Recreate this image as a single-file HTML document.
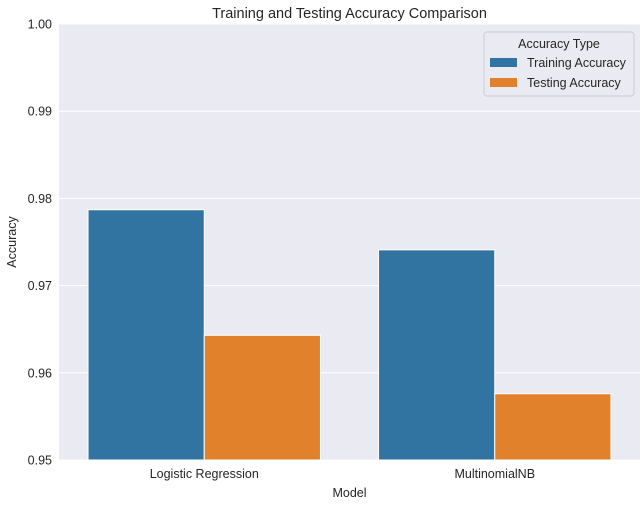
<!DOCTYPE html>
<html><head><meta charset="utf-8"><style>
body{margin:0;background:#fff;font-family:"Liberation Sans",sans-serif}
</style></head><body>
<svg id="chart" width="642" height="502" xmlns="http://www.w3.org/2000/svg"></svg>
<script>
const categories=["Logistic Regression","MultinomialNB"];
const trainingValues=[0.9787,0.9741];
const testingValues=[0.9643,0.9576];
const yTicks=[0.95,0.96,0.97,0.98,0.99,1.00];
const yTickLabels=["0.95","0.96","0.97","0.98","0.99","1.00"];
const seriesNames=["Training Accuracy","Testing Accuracy"];
const colors=["#3274a1","#e1812c"];

const svg=document.getElementById('chart');
const NS="http://www.w3.org/2000/svg";
const L=59,R=640,T=24,B=460,yMin=0.95,yMax=1.0;
const y=v=>B-(v-yMin)/(yMax-yMin)*(B-T);
const band=(R-L)/categories.length;
const xc=i=>L+band*(i+0.5);
function mk(tag,attrs,parent){const e=document.createElementNS(NS,tag);for(const k in attrs)e.setAttribute(k,attrs[k]);(parent||svg).appendChild(e);return e;}

const bg=mk('rect',{x:L,y:T,width:R-L,height:B-T,fill:'#eaeaf2'});


yTicks.forEach((t,i)=>{
  const g=mk('line',{x1:L,x2:R,y1:y(t),y2:y(t),stroke:'#fff','stroke-width':1});
  
  
  const tx=mk('text',{x:L-7,y:y(t)+4.5,'text-anchor':'end','font-size':12.5,fill:'#262626'});
  tx.textContent=yTickLabels[i];
  
  
});
const bw=band*0.8/2;
[trainingValues,testingValues].forEach((vals,s)=>{
  vals.forEach((v,i)=>{
    const x0=xc(i)-bw+s*bw;
    const r=mk('rect',{x:x0,y:y(v),width:bw,height:B-y(v),fill:colors[s],stroke:'#fff','stroke-width':1});
    
    
  });
});
categories.forEach((c,i)=>{
  const tx=mk('text',{x:xc(i),y:B+18,'text-anchor':'middle','font-size':12.5,fill:'#262626'});
  tx.textContent=c;
  
  
});
const title=mk('text',{x:(L+R)/2,y:18,'text-anchor':'middle','font-size':14.5,fill:'#262626'});
title.textContent="Training and Testing Accuracy Comparison";


const xt=mk('text',{x:(L+R)/2,y:497,'text-anchor':'middle','font-size':12.5,fill:'#262626'});
xt.textContent="Model";


const yt=mk('text',{x:16,y:(T+B)/2,'text-anchor':'middle','font-size':12.5,fill:'#262626',transform:`rotate(-90 16 ${(T+B)/2})`});
yt.textContent="Accuracy";



const lg=mk('g',{});


mk('rect',{x:484,y:32,width:150,height:64,rx:3,fill:'#eaeaf2',stroke:'#cccccc','stroke-width':1},lg);
const lt=mk('text',{x:559,y:48,'text-anchor':'middle','font-size':12.5,fill:'#262626'},lg);
lt.textContent="Accuracy Type";
seriesNames.forEach((n,i)=>{
  const sw=mk('rect',{x:490,y:58+i*20,width:27,height:9,fill:colors[i]},lg);
  
  
  const t=mk('text',{x:527,y:67+i*20,'font-size':12.5,fill:'#262626'},lg);
  t.textContent=n;
  
  
});
</script>
</body></html>
